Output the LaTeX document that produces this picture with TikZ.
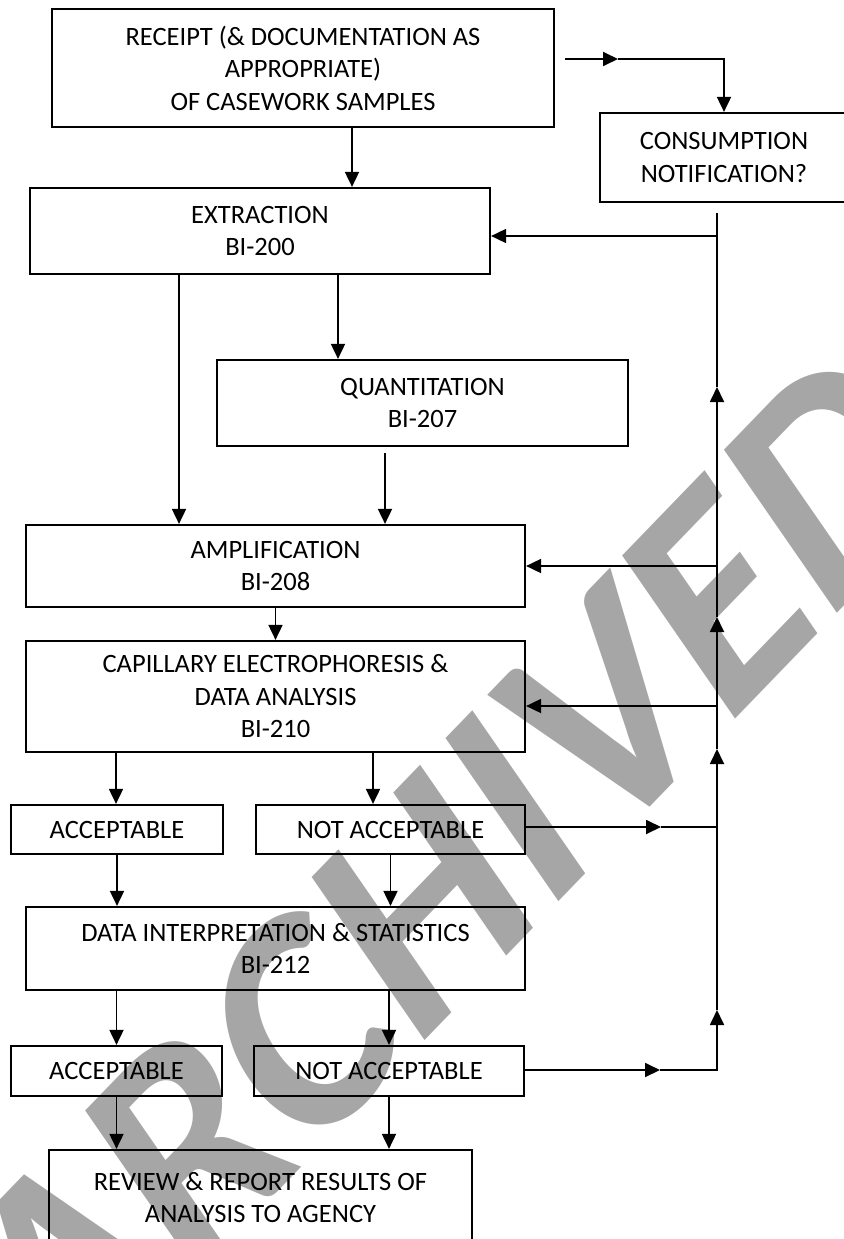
\documentclass[tikz,border=0pt]{standalone}
\usepackage{fontspec}
\setmainfont{Carlito}
\usetikzlibrary{arrows.meta}
\definecolor{wmgray}{RGB}{166,166,166}
\tikzset{
  box/.style={draw, line width=2.2pt, inner sep=0pt, align=center,
    font=\fontsize{26.5}{32.5}\selectfont},
  arr/.style={-{Triangle[length=15pt,width=14pt]}, line width=1.8pt},
  link/.style={line width=1.8pt},
  wmark/.style={text=wmgray, inner sep=0pt,
    font=\fontsize{300}{300}\selectfont\bfseries}
}
\begin{document}
\begin{tikzpicture}[x=1pt, y=-1pt]
  \useasboundingbox (0,0) rectangle (843,1239);
  % watermark behind the chart
  \node [wmark, rotate=46, xslant=0.2] (wm) at (452,872) {ARCHIVED};

  \node [box, minimum width=502, minimum height=118] (receipt) at (303,68)
    {RECEIPT (\& DOCUMENTATION AS\\APPROPRIATE)\\OF CASEWORK SAMPLES};
  \node [box, minimum width=248, minimum height=89] (consump) at (724,157.5)
    {CONSUMPTION\\NOTIFICATION?};
  \node [box, minimum width=460, minimum height=86] (extract) at (260,231)
    {EXTRACTION\\BI-200};
  \node [box, minimum width=411, minimum height=86] (quant) at (422.5,403)
    {QUANTITATION\\BI-207};
  \node [box, minimum width=499, minimum height=82] (ampl) at (275.5,566)
    {AMPLIFICATION\\BI-208};
  \node [box, minimum width=499, minimum height=111] (ce) at (275.5,696.5)
    {CAPILLARY ELECTROPHORESIS \&\\DATA ANALYSIS\\BI-210};
  \node [box, minimum width=212, minimum height=49] (acc1) at (117,829.5)
    {ACCEPTABLE};
  \node [box, minimum width=269, minimum height=49] (nacc1) at (390.5,829.5)
    {NOT ACCEPTABLE};
  \node [box, minimum width=499, minimum height=83] (di) at (275.5,948.5)
    {DATA INTERPRETATION \& STATISTICS\\BI-212};
  \node [box, minimum width=211, minimum height=50] (acc2) at (116.5,1071)
    {ACCEPTABLE};
  \node [box, minimum width=270, minimum height=50] (nacc2) at (389,1071)
    {NOT ACCEPTABLE};
  \node [box, minimum width=423, minimum height=95] (review) at (260.5,1197.5)
    {REVIEW \& REPORT RESULTS OF\\ANALYSIS TO AGENCY};

  % feeds leaving the boxes
  \coordinate (r2e) at ([xshift=49]receipt.south);
  \coordinate (e2a) at ([xshift=-81]extract.south);
  \coordinate (e2q) at ([xshift=78]extract.south);
  \coordinate (q2a) at ([xshift=-37.5,yshift=-6]quant.south);
  \coordinate (c2a) at ([xshift=-159.5]ce.south);
  \coordinate (c2n) at ([xshift=97.5]ce.south);

  % return line on the right
  \coordinate (rc0) at (565,59);
  \coordinate (rc1) at (618,59);
  \coordinate (vtop) at (717,213);
  \coordinate (jx) at (717,236);
  \coordinate (u1) at (717,387);
  \coordinate (ja) at (717,566);
  \coordinate (u2) at (717,617);
  \coordinate (jc) at (717,706);
  \coordinate (u3) at (717,749);
  \coordinate (jn) at (717,827);
  \coordinate (u4) at (717,1010);
  \coordinate (cb) at (717,1070);
  \coordinate (n1) at (661,827);
  \coordinate (n2) at (660,1070);

  \draw [arr] (r2e) -- (r2e |- extract.north);
  \draw [arr] (e2a) -- (e2a |- ampl.north);
  \draw [arr] (e2q) -- (e2q |- quant.north);
  \draw [arr] (q2a) -- (q2a |- ampl.north);
  \draw [arr] (ampl.south) -- (ce.north);
  \draw [arr] (c2a) -- (c2a |- acc1.north);
  \draw [arr] (c2n) -- (c2n |- nacc1.north);
  \draw [arr] (acc1.south) -- (acc1.south |- di.north);
  \draw [arr] (nacc1.south) -- (nacc1.south |- di.north);
  \draw [arr] (acc2.north |- di.south) -- (acc2.north);
  \draw [arr] (nacc2.north |- di.south) -- (nacc2.north);
  \draw [arr] (acc2.south) -- (acc2.south |- review.north);
  \draw [arr] (nacc2.south) -- (nacc2.south |- review.north);

  \draw [arr] (rc0) -- (rc1);
  \draw [arr] (rc1) -| (consump.north);
  \draw [arr] (nacc2.east |- n2) -- (n2);
  \draw [arr] (n2) -- (cb) -- (u4);
  \draw [arr] (u4) -- (u3);
  \draw [arr] (u3) -- (u2);
  \draw [arr] (u2) -- (u1);
  \draw [link] (u1) -- (vtop);
  \draw [arr] (nacc1.east |- n1) -- (n1);
  \draw [link] (n1) -- (jn);
  \draw [arr] (jc) -- (jc -| ce.east);
  \draw [arr] (ja) -- (ja -| ampl.east);
  \draw [arr] (jx) -- (jx -| extract.east);
\end{tikzpicture}
\end{document}
